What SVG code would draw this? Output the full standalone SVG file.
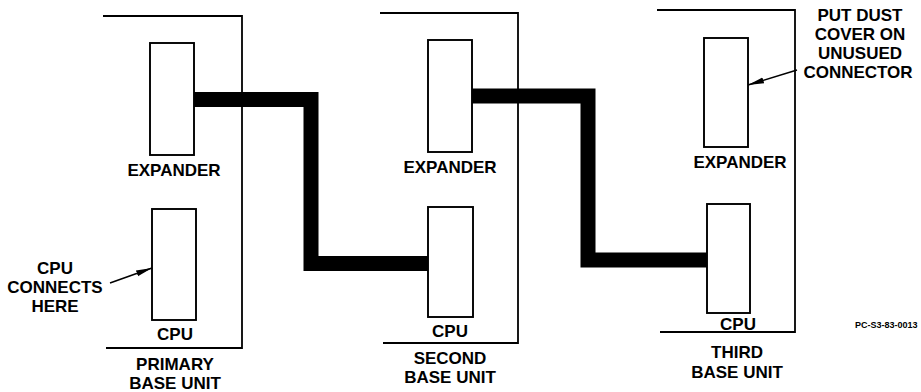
<svg xmlns="http://www.w3.org/2000/svg" width="921" height="392" viewBox="0 0 921 392">
<style>
.unit{fill:none;stroke:#000;stroke-width:1.8}
.slot{fill:#fff;stroke:#000;stroke-width:1.9}
.cable{fill:none;stroke:#000;stroke-width:15;stroke-linejoin:miter}
.lbl{font-family:"Liberation Sans",Arial,sans-serif;font-weight:bold;font-size:17px;text-anchor:middle;fill:#000}
.lead{stroke:#000;stroke-width:1.6;fill:none}
.small{font-family:"Liberation Sans",Arial,sans-serif;font-weight:bold;font-size:9px;fill:#000}
</style>
<defs>
<marker id="ah" markerWidth="18" markerHeight="10" refX="16" refY="5" orient="auto" markerUnits="userSpaceOnUse">
<path d="M0,2 L16,5 L0,8 Z" fill="#000"/>
</marker>
</defs>
<rect width="921" height="392" fill="#fff"/>
<g id="connectors">
<path class="cable" d="M193,99.5 H311 V263.5 H428"/>
<path class="cable" d="M472,96 H588 V260 H707"/>
</g>
<g id="primary-unit">
<path class="unit" d="M103,16 H242 V348 H106"/>
<rect class="slot" x="150" y="43" width="44" height="112"/>
<text class="lbl" x="174" y="176">EXPANDER</text>
<rect class="slot" x="152" y="209" width="44" height="111"/>
<text class="lbl" x="175" y="340">CPU</text>
<text class="lbl" x="175" y="370">PRIMARY</text>
<text class="lbl" x="175" y="389">BASE UNIT</text>
</g>
<g id="second-unit">
<path class="unit" d="M380,13 H518 V343 H383"/>
<rect class="slot" x="428" y="40" width="44" height="112"/>
<text class="lbl" x="450" y="173">EXPANDER</text>
<rect class="slot" x="428" y="207" width="45" height="110"/>
<text class="lbl" x="450" y="337">CPU</text>
<text class="lbl" x="450" y="364">SECOND</text>
<text class="lbl" x="450" y="383">BASE UNIT</text>
</g>
<g id="third-unit">
<path class="unit" d="M657,10 H795 V332 H660"/>
<rect class="slot" x="704" y="38" width="44" height="109"/>
<text class="lbl" x="740" y="168">EXPANDER</text>
<rect class="slot" x="707" y="204" width="43" height="109"/>
<text class="lbl" x="738" y="330">CPU</text>
<text class="lbl" x="737" y="358">THIRD</text>
<text class="lbl" x="737" y="378">BASE UNIT</text>
</g>
<g id="note-cpu">
<text class="lbl" x="55" y="274">CPU</text>
<text class="lbl" x="55" y="293">CONNECTS</text>
<text class="lbl" x="55" y="312">HERE</text>
<line class="lead" x1="110" y1="283" x2="152" y2="268" marker-end="url(#ah)"/>
</g>
<g id="note-dust">
<text class="lbl" x="860" y="21">PUT DUST</text>
<text class="lbl" x="860" y="40">COVER ON</text>
<text class="lbl" x="860" y="59">UNUSUED</text>
<text class="lbl" x="858" y="78">CONNECTOR</text>
<line class="lead" x1="797" y1="70" x2="748" y2="85" marker-end="url(#ah)"/>
</g>
<text class="small" x="855" y="328">PC-S3-83-0013</text>
</svg>
